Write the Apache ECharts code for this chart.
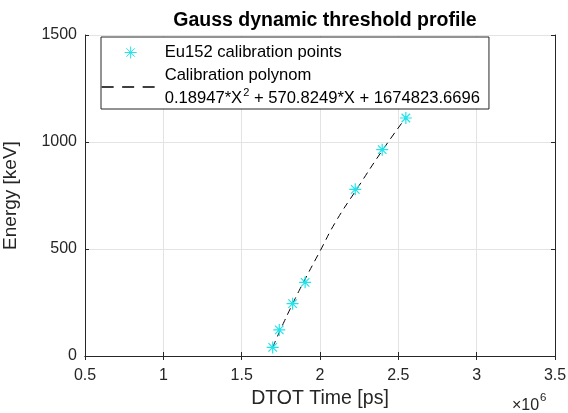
<!DOCTYPE html>
<html><head><meta charset="utf-8">
<script src="https://cdn.jsdelivr.net/npm/echarts@6/dist/echarts.min.js"></script>
<style>html,body{margin:0;padding:0;background:#fff}#c{width:568px;height:413px}</style>
</head><body><div id="c"></div>
<script>
// DTOT time in units of 1e6 ps, energy in keV
const pointTime = [1.698, 1.740, 1.825, 1.905, 2.225, 2.397, 2.548];
const pointEnergy = [40, 121.8, 244.7, 344.3, 778.9, 964.1, 1112.1];
const curveTime = [1.698, 1.747, 1.826, 1.894, 2.000, 2.100, 2.234, 2.401, 2.552];
const curveEnergy = [40, 122, 245, 344, 490, 627, 779, 964, 1118];
const xTicks = [0.5, 1, 1.5, 2, 2.5, 3, 3.5];
const yTicks = [0, 500, 1000, 1500];
const seriesNames = ['Eu152 calibration points', 'Calibration polynom'];

const FONT = 'Liberation Sans, Arial, Helvetica, sans-serif';
const cyan = '#22e3ea';
const AX = '#262626';
const star = 'path://M0,-6L0,6M-6,0L6,0M-4.24,-4.24L4.24,4.24M-4.24,4.24L4.24,-4.24';
const starLegend = 'path://M-29,-7M29,7M0,-6L0,6M-6,0L6,0M-4.24,-4.24L4.24,4.24M-4.24,4.24L4.24,-4.24';
const chart = echarts.init(document.getElementById('c'));
const axisLine = {show: true, lineStyle: {color: AX, width: 1}};
const axisTick = {show: true, inside: true, length: 4, lineStyle: {color: AX}};
chart.setOption({
  animation: false,
  backgroundColor: '#fff',
  title: {text: 'Gauss dynamic threshold profile', left: 320, top: 6, textAlign: 'center',
    textStyle: {fontFamily: FONT, fontSize: 19.5, fontWeight: 'bold', color: '#000'}},
  grid: {left: 85, right: 13, top: 35, bottom: 57, outerBoundsMode: 'none', containLabel: false},
  legend: {
    left: 101, top: 37, orient: 'vertical', backgroundColor: '#fff',
    borderColor: AX, borderWidth: 1, borderRadius: 0,
    padding: [7, 9, 1, 0], itemGap: 6, itemWidth: 58, itemHeight: 14,
    data: [
      {name: seriesNames[0], icon: starLegend, itemStyle: {color: 'transparent', borderColor: cyan, borderWidth: 1}},
      {name: seriesNames[1], lineStyle: {color: '#000', width: 1.3, type: [12, 8.5], opacity: 1}}
    ],
    formatter: function (n) {
      if (n === seriesNames[0]) return '{a|' + n + '}';
      return '{a|' + n + '}\n{a|0.18947*X}{sup|2}{a| + 570.8249*X + 1674823.6696}';
    },
    textStyle: {fontFamily: FONT, fontSize: 16.6, color: '#000',
      rich: {a: {fontFamily: FONT, fontSize: 16.6, color: '#000', lineHeight: 23},
             sup: {fontFamily: FONT, fontSize: 11, color: '#000', lineHeight: 23, verticalAlign: 'top', padding: [0, 0, 10, 1]}}}
  },
  xAxis: [{
    type: 'value', min: 0.5, max: 3.5, interval: 0.5,
    name: 'DTOT Time [ps]', nameLocation: 'middle', nameGap: 32,
    nameTextStyle: {fontFamily: FONT, fontSize: 19.5, color: AX},
    axisLine: axisLine, axisTick: axisTick,
    axisLabel: {fontFamily: FONT, fontSize: 16, color: AX, margin: 12,
      formatter: v => (xTicks.indexOf(v) >= 0 ? String(v) : '')},
    splitLine: {show: true, lineStyle: {color: '#e3e3e3'}}
  }, {
    type: 'value', position: 'top', min: 0.5, max: 3.5, interval: 0.5,
    axisLine: axisLine, axisTick: axisTick,
    axisLabel: {show: false}, splitLine: {show: false}
  }],
  yAxis: [{
    type: 'value', min: 0, max: 1500, interval: 500,
    name: 'Energy [keV]', nameLocation: 'middle', nameGap: 65,
    nameTextStyle: {fontFamily: FONT, fontSize: 19, color: AX},
    axisLine: axisLine, axisTick: axisTick,
    axisLabel: {fontFamily: FONT, fontSize: 16, color: AX, margin: 8,
      formatter: v => (yTicks.indexOf(v) >= 0 ? String(v) : '')},
    splitLine: {show: true, lineStyle: {color: '#e3e3e3'}}
  }, {
    type: 'value', position: 'right', min: 0, max: 1500, interval: 500,
    axisLine: axisLine, axisTick: axisTick,
    axisLabel: {show: false}, splitLine: {show: false}
  }],
  graphic: [{
    type: 'text', x: 512, y: 406,
    style: {text: '×10', fontFamily: FONT, fontSize: 16, fill: AX, verticalAlign: 'middle'}
  }, {
    type: 'text', x: 540, y: 398,
    style: {text: '6', fontFamily: FONT, fontSize: 11.5, fill: AX, verticalAlign: 'middle'}
  }],
  series: [{
    name: seriesNames[1], type: 'line', data: curveTime.map((t, i) => [t, curveEnergy[i]]),
    showSymbol: false, symbol: 'circle', symbolSize: 0, smooth: true,
    itemStyle: {color: 'transparent'},
    lineStyle: {color: '#000', width: 1, type: [7, 5]}, z: 2
  }, {
    name: seriesNames[0], type: 'scatter', data: pointTime.map((t, i) => [t, pointEnergy[i]]),
    symbol: star, symbolSize: 12,
    itemStyle: {color: 'transparent', borderColor: cyan, borderWidth: 1.2, opacity: 1}, z: 3
  }]
});
</script></body></html>
